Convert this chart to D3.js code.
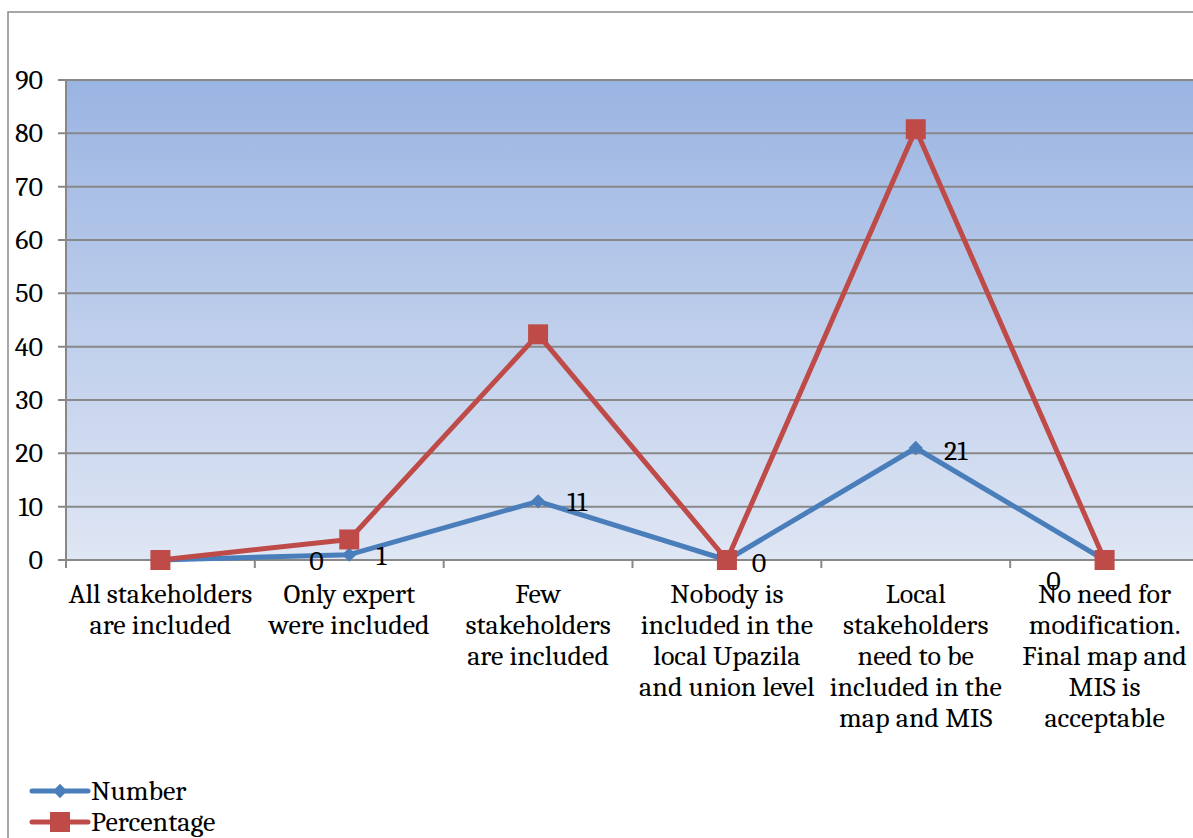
<!DOCTYPE html>
<html><head><meta charset="utf-8">
<script src="https://cdn.jsdelivr.net/npm/d3@7"></script>
<style>html,body{margin:0;padding:0;background:#fff;overflow:hidden}</style>
</head><body>
<svg id="c" width="1193" height="838"></svg>
<script>
const categories = [
  ["All stakeholders","are included"],
  ["Only expert","were included"],
  ["Few","stakeholders","are included"],
  ["Nobody is","included in the","local Upazila","and union level"],
  ["Local","stakeholders","need to be","included in the","map and MIS"],
  ["No need for","modification.","Final map and","MIS is","acceptable"]
];
const numberValues = [0, 1, 11, 0, 21, 0];
const percentageValues = [0, 3.85, 42.31, 0, 80.77, 0];
const yTicks = [0,10,20,30,40,50,60,70,80,90];
const seriesNames = ["Number","Percentage"];
// label offsets (pixels) for Number data labels, as placed in the original
const labelOffsets = [[156,4],[32,4],[39,4],[32,6],[40,6],[-51,24]];

const svg = d3.select("#c");
const font = "Cambria, 'Liberation Serif', serif";
const fs = 28;
const m = {left:66, top:80, bottom:560, right:1199};
const x = d3.scaleBand().domain(d3.range(categories.length)).range([m.left, m.right]);
const y = d3.scaleLinear().domain([0,90]).range([m.bottom, m.top]);
const cx = i => x(i) + x.bandwidth()/2;

// outer border
svg.append("rect").attr("x",8).attr("y",12).attr("width",1300).attr("height",900)
  .attr("fill","#fff").attr("stroke","#8a8a8a").attr("stroke-width",1.5);

// gradient
const defs = svg.append("defs");
const g = defs.append("linearGradient").attr("id","bg").attr("x1",0).attr("y1",0).attr("x2",0).attr("y2",1);
g.append("stop").attr("offset","0%").attr("stop-color","#9ab4e2");
g.append("stop").attr("offset","100%").attr("stop-color","#dfe6f4");
svg.append("rect").attr("x",m.left).attr("y",m.top).attr("width",m.right-m.left).attr("height",m.bottom-m.top).attr("fill","url(#bg)");

// gridlines
svg.append("g").selectAll("line").data(yTicks).join("line")
  .attr("x1",m.left-8).attr("x2",m.right).attr("y1",d=>y(d)).attr("y2",d=>y(d))
  .attr("stroke","#888").attr("stroke-width",2);
// y axis line
svg.append("line").attr("x1",m.left).attr("x2",m.left).attr("y1",m.top).attr("y2",m.bottom+1).attr("stroke","#888").attr("stroke-width",2);
// y tick labels
svg.append("g").selectAll("text").data(yTicks).join("text")
  .attr("x",43).attr("y",d=>y(d)+9).attr("text-anchor","end")
  .attr("font-family",font).attr("font-size",fs).attr("fill","#000").text(d=>d);
// x ticks
const bounds = d3.range(categories.length+1).map(i => m.left + i*x.bandwidth());
svg.append("g").selectAll("line").data(bounds).join("line")
  .attr("x1",d=>d).attr("x2",d=>d).attr("y1",m.bottom).attr("y2",m.bottom+8)
  .attr("stroke","#888").attr("stroke-width",2);
// x labels
const xl = svg.append("g").selectAll("text").data(categories).join("text")
  .attr("text-anchor","middle").attr("font-family",font).attr("font-size",fs).attr("fill","#000");
xl.each(function(lines,i){
  d3.select(this).selectAll("tspan").data(lines).join("tspan")
    .attr("x",cx(i)).attr("y",(d,j)=>603+j*31).text(d=>d);
});

const line = d3.line().x((d,i)=>cx(i)).y(d=>y(d));
const blue = "#4a7ebb", red = "#be4b48";
svg.append("path").datum(numberValues).attr("d",line).attr("fill","none").attr("stroke",blue).attr("stroke-width",5).attr("stroke-linejoin","round");
svg.append("path").datum(percentageValues).attr("d",line).attr("fill","none").attr("stroke",red).attr("stroke-width",5).attr("stroke-linejoin","round");
const diamond = d3.symbol().type(d3.symbolDiamond2).size(130);
svg.append("g").selectAll("path").data(numberValues).join("path")
  .attr("d",diamond).attr("transform",(d,i)=>`translate(${cx(i)},${y(d)})`).attr("fill",blue);
svg.append("g").selectAll("rect").data(percentageValues).join("rect")
  .attr("x",(d,i)=>cx(i)-10).attr("y",d=>y(d)-10).attr("width",20).attr("height",20).attr("fill",red);

// data labels
svg.append("g").selectAll("text").data(numberValues).join("text")
  .attr("x",(d,i)=>cx(i)+labelOffsets[i][0]).attr("y",(d,i)=>y(d)+labelOffsets[i][1]+6)
  .attr("text-anchor","middle").attr("font-family",font).attr("font-size",fs).attr("fill","#000").text(d=>d);

// legend
const leg = svg.append("g");
[0,1].forEach(k=>{
  const ly = 791 + k*31;
  const col = k===0?blue:red;
  leg.append("line").attr("x1",32).attr("x2",88).attr("y1",ly).attr("y2",ly).attr("stroke",col).attr("stroke-width",5).attr("stroke-linecap","round");
  if(k===0) leg.append("path").attr("d",diamond).attr("transform",`translate(60,${ly})`).attr("fill",col);
  else leg.append("rect").attr("x",50).attr("y",ly-10).attr("width",20).attr("height",20).attr("fill",col);
  leg.append("text").attr("x",91).attr("y",ly+9).attr("font-family",font).attr("font-size",fs).attr("fill","#000").text(seriesNames[k]);
});
</script>
</body></html>
